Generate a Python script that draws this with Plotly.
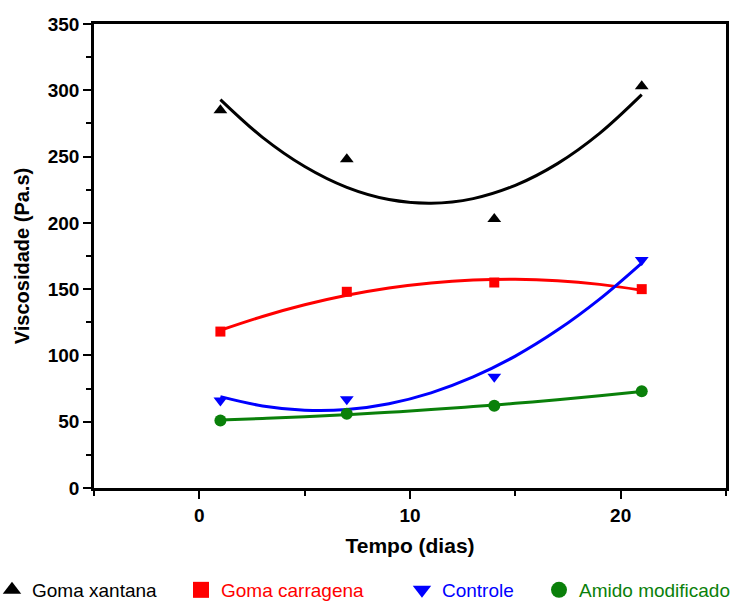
import plotly.graph_objects as go

# Measured data (viscosity, Pa.s) vs time (days)
dias = [1, 7, 14, 21]
goma_xantana = [285, 248, 203, 303]
goma_carragena = [118, 148, 155, 150]
controle = [66, 67, 84, 172]
amido_modificado = [51, 56, 62, 73]

# Fitted trend curves at sample days
dias_fit = [1, 3, 5, 7, 9, 11, 13, 15, 17, 19, 21]
fit_xantana = [293.0, 264.5, 242.5, 226.8, 217.6, 214.8, 218.3, 228.3, 244.7, 267.5, 296.7]
fit_carragena = [119.0, 129.4, 138.2, 145.4, 150.9, 154.7, 156.9, 157.5, 156.4, 153.6, 149.2]
fit_controle = [68.9, 61.9, 58.7, 59.2, 63.6, 71.8, 83.8, 99.5, 119.1, 142.5, 169.7]
fit_amido = [51.3, 52.4, 53.7, 55.3, 57.1, 59.2, 61.4, 63.9, 66.6, 69.6, 72.8]

names = ["Goma xantana", "Goma carragena", "Controle", "Amido modificado"]
colors = ["#000000", "#ff0000", "#0000ff", "#0a800a"]
symbols = ["triangle-up", "square", "triangle-down", "circle"]
msizes = [12, 10, 12, 12]
series = [goma_xantana, goma_carragena, controle, amido_modificado]
fits = [fit_xantana, fit_carragena, fit_controle, fit_amido]
legend_ids = ["legend", "legend2", "legend3", "legend4"]
legend_x = [-0.1614, 0.1377, 0.4873, 0.7041]

FONT = "Liberation Sans, Arial, sans-serif"

fig = go.Figure()
for f, c in zip(fits, colors):
    fig.add_trace(go.Scatter(x=dias_fit, y=f, mode="lines", line=dict(color=c, width=3, shape="spline"),
                             showlegend=False, hoverinfo="skip"))
for n, s, c, sym, ms, lg in zip(names, series, colors, symbols, msizes, legend_ids):
    fig.add_trace(go.Scatter(x=dias, y=s, mode="markers", name=n, showlegend=False,
                             marker=dict(color=c, symbol=sym, size=ms, line=dict(width=0))))
    # legend entry (larger symbol, coloured label), no plotted points
    fig.add_trace(go.Scatter(x=[None], y=[None], mode="markers",
                             name=f"<span style='color:{c}'>{n}</span>",
                             marker=dict(color=c, symbol=sym, size=16, line=dict(width=0)),
                             legend=lg, hoverinfo="skip"))

axis_common = dict(showline=True, linecolor="black", linewidth=2.5, mirror=True,
                   ticks="outside", ticklen=8, tickwidth=2, tickcolor="black",
                   showgrid=False, zeroline=False,
                   tickfont=dict(family=FONT, size=19, color="black", weight="bold"))

fig.update_xaxes(range=[-5, 25], tickvals=[0, 10, 20], **axis_common,
                 minor=dict(dtick=5, tick0=-5, ticks="outside", ticklen=5, tickwidth=2, tickcolor="black"),
                 title=dict(text="Tempo (dias)", font=dict(family=FONT, size=21, color="black", weight="bold"),
                            standoff=14))
fig.update_yaxes(range=[0, 350], dtick=50, **axis_common,
                 minor=dict(dtick=25, ticks="outside", ticklen=5, tickwidth=2, tickcolor="black"),
                 title=dict(text="Viscosidade (Pa.s)", font=dict(family=FONT, size=20, color="black", weight="bold"),
                            standoff=13))

layout_legends = {}
for lg, lx in zip(legend_ids, legend_x):
    layout_legends[lg] = dict(x=lx, xanchor="left", y=-0.2198, yanchor="middle", orientation="h",
                              bgcolor="rgba(0,0,0,0)", borderwidth=0,
                              font=dict(family=FONT, size=19, color="black"))

fig.update_layout(width=737, height=602, margin=dict(l=94, r=11, t=24, b=114, autoexpand=False),
                  plot_bgcolor="white", paper_bgcolor="white", **layout_legends)

fig.write_html("out.html")
